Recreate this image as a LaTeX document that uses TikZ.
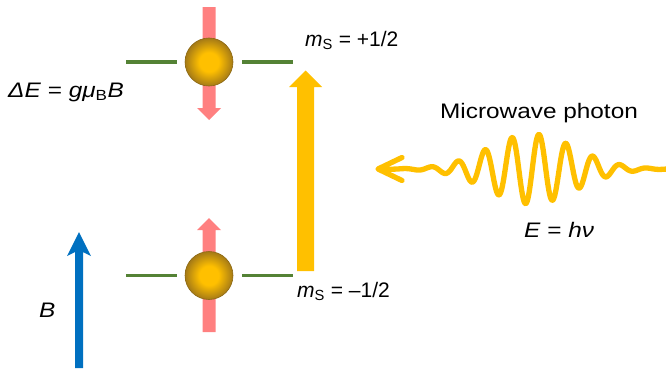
\documentclass[tikz,border=0pt]{standalone}
\usepackage{fontspec}
\setmainfont{Liberation Sans}
\usepackage{graphicx}
\definecolor{gold}{RGB}{255,192,0}
\definecolor{goldedge}{RGB}{165,122,22}
\definecolor{levelgreen}{RGB}{84,130,53}
\definecolor{spinpink}{RGB}{255,128,128}
\definecolor{fieldblue}{RGB}{0,112,192}
\pgfdeclareradialshading{goldball}{\pgfpoint{0bp}{0bp}}{color(0bp)=(gold); color(10bp)=(gold); color(25bp)=(goldedge); color(50bp)=(goldedge)}
\newcommand\hs[1]{\scalebox{1.16}[1]{#1}}
\begin{document}
\begin{tikzpicture}[x=1pt,y=-1pt,
  level/.style={draw=levelgreen, line width=3.5pt},
  sphere/.style={circle, minimum size=48pt, inner sep=0pt, shading=goldball, draw=goldedge!85!black, line width=0.6pt},
  spin/.style={fill=spinpink},
  wave/.style={draw=gold, line width=5.3pt, line cap=round, line join=round},
  big/.style={font=\fontsize{21}{25}\selectfont, inner sep=0pt}]
\useasboundingbox (0,0) rectangle (666,372);

% energy levels
\coordinate (upL1) at (126,62); \coordinate (upL2) at (177,62);
\coordinate (upR1) at (242,62); \coordinate (upR2) at (293,62);
\coordinate (loL1) at (126,275.5); \coordinate (loL2) at (177,275.5);
\coordinate (loR1) at (242,275.5); \coordinate (loR2) at (293,275.5);
\draw[level] (upL1) -- (upL2);
\draw[level] (upR1) -- (upR2);
\draw[level] (loL1) -- (loL2);
\draw[level] (loR1) -- (loR2);

% spin arrows
\fill[spin] (202.5,7) -- (215.5,7) -- (215.5,108) -- (221,108) -- (209,120) -- (197,108) -- (202.5,108) -- cycle;
\fill[spin] (202.5,332) -- (215.5,332) -- (215.5,230) -- (221,230) -- (209,218) -- (197,230) -- (202.5,230) -- cycle;

% spheres
\node[sphere] (upS) at (209,62) {};
\node[sphere] (loS) at (209,275.5) {};

% transition arrow
\fill[gold] (305.5,70.5) -- (322,87) -- (314,87) -- (314,271) -- (297,271) -- (297,87) -- (289,87) -- cycle;

% field arrow
\fill[fieldblue] (79,232) -- (91,256) -- (83,252) -- (83,368) -- (75,368) -- (75,252) -- (67,256) -- cycle;

% microwave photon
\draw[wave] plot[domain=379:666, samples=500, smooth] (\x, {169 - 35*exp(-0.5*((\x-532)/43)*((\x-532)/43))*cos((\x-539)*13.333)});
\coordinate (wTip) at (378,169);
\coordinate (wA) at (402,157.5);
\coordinate (wB) at (402,180.5);
\draw[wave] (wA) -- (wTip) -- (wB);

% labels
\node[big, anchor=base west] (dE) at (8,97) {\hs{\textit{ΔE} = \textit{gμ}\textsubscript{B}\textit{B}}};
\node[big, anchor=base west] (mup) at (305,46.5) {\textit{m}\textsubscript{S} = +1/2};
\node[big, anchor=base west] (mdn) at (297,297) {\textit{m}\textsubscript{S} = –1/2};
\node[big, anchor=base west] (mw) at (440,118) {\hs{Microwave photon}};
\node[big, anchor=base west] (Eh) at (524,237) {\hs{\textit{E} = \textit{hν}}};
\node[big, anchor=base west] (Bl) at (39,317) {\hs{\textit{B}}};
\end{tikzpicture}
\end{document}
